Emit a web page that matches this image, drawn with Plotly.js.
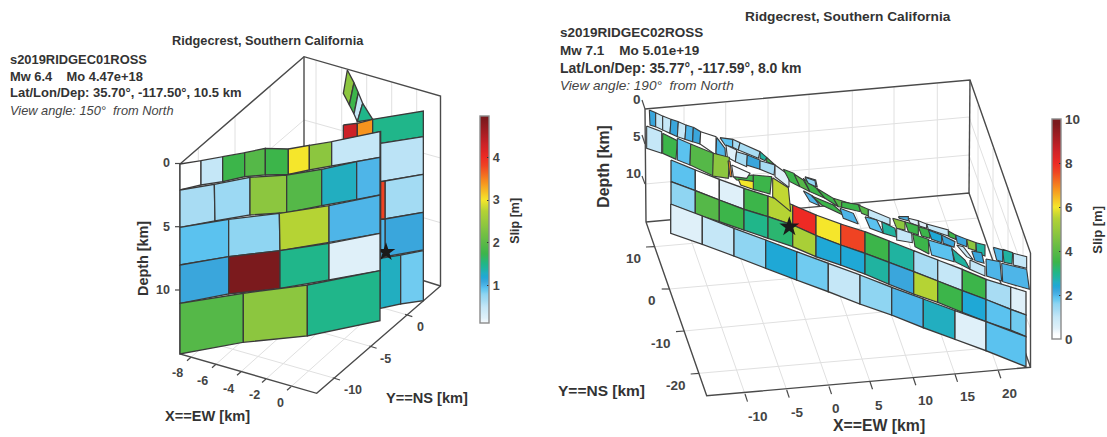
<!DOCTYPE html>
<html><head><meta charset="utf-8">
<script src="https://cdn.plot.ly/plotly-3.0.1.min.js"></script>
<style>html,body{margin:0;padding:0;background:#fff}#c{width:1107px;height:437px}</style>
</head><body><div id="c"></div>
<script>
// ---------- colour scale (fraction of the colour axis -> colour)
const scaleStops = [0,.02,.05,.1,.13,.16,.175,.19,.2,.22,.24,.26,.28,.3,.35,.39,.48,.55,.6,.68,.76,.8,.86,.9,.98,1];
const scaleColors = ['#ffffff','#fdfeff','#dff0f9','#c5e7f7','#a8dcf3','#8fd5f2','#70cbf0','#5bc2ef','#4eb5e8','#3aa6dc','#1fa8d6','#22aec0','#20b3a0','#20b68a','#3cb54a','#55b848','#8cc63f','#b5d334','#f5e62b','#f7941e','#ef4323','#ed2a24','#cc2127','#b01f24','#7b1a1d','#7b1a1d'];

// ---------- left panel: patches [slip, x,y, x,y, ...]
const leftBackPatches = [ // crop origin 130,40
 [2.4, 652,90,640,160,658,195,672,128],
 [1.75, 672,128,658,195,672,222,685,158],
 [0.5, 685,158,672,222,682,245,698,190],
 [1.5, 698,190,682,245,728,238],
 [4.3, 640,255,682,250,682,294,640,300],
 [3.4, 682,250,728,238,728,283,682,294],
 [1.5, 728,238,880,213,880,290,752,310,752,275,728,280],
 [0.55, 752,310,880,290,880,403,765,423,752,425],
 [0.68, 765,423,880,403,880,517,765,537],
 [1.1, 765,537,880,517,880,630,765,650],
 [3.8, 752,425,765,423,765,537,752,538],
 [1.0, 752,538,765,537,765,655,752,655],
 [1.3, 750,655,812,645,812,792,750,805],
 [0.875, 812,645,880,632,880,782,812,792]
];
const leftFrontPatches = [ // crop origin 130,40
 [0.05, 150,372,213,362,213,435,150,450],
 [0.5, 213,362,278,350,278,425,213,435],
 [1.75, 278,350,344,338,344,410,278,425],
 [1.95, 344,338,406,325,406,405,344,410],
 [1.75, 406,325,475,327,475,403,406,405],
 [3.0, 475,327,538,316,538,390,475,403],
 [2.4, 538,316,605,305,605,378,538,390],
 [0.5, 605,305,750,275,750,352,605,378],
 [0.65, 150,450,253,433,255,543,150,562],
 [0.72, 253,433,360,412,360,525,255,543],
 [2.4, 360,412,470,405,470,518,360,525],
 [1.95, 470,405,575,388,575,497,470,518],
 [1.3, 575,388,680,365,680,478,575,497],
 [1.0, 680,365,750,352,750,465,680,478],
 [0.95, 150,562,296,538,296,650,150,675],
 [0.8, 296,538,448,520,450,632,296,650],
 [2.75, 448,520,597,497,597,607,450,632],
 [1.0, 597,497,750,465,750,580,597,607],
 [1.1, 150,675,296,650,296,762,150,790],
 [4.9, 296,650,450,632,450,745,296,762],
 [1.5, 450,632,597,610,597,720,450,745],
 [0.25, 597,610,750,580,750,692,597,720],
 [1.95, 150,790,340,760,340,907,150,942],
 [2.4, 340,760,532,735,532,888,340,907],
 [1.5, 532,735,750,692,750,842,532,888]
];
// ---------- right panel: regular rows of the fault, bottom to top
const rowAX = [670.7,702.3,734,765.7,796.7,828.3,860,891.7,923.3,955,986,1026];
const rowATop = [204,216,228.3,240,251.7,263.3,275,287.3,299,310.7,321.7,336.7];
const rowABot = [233.3,244.3,256,268.3,280,291.7,304,315,327.7,339.3,350.7,366.7];
const rowASlip = [0.5,1.0,1.6,2.4,1.75,1.0,1.6,2.0,2.6,0.5,1.9];
const rowBX = [671,695.3,719.3,744,768,792.7,816,840.7,865,889,913.7,937.7,962.3,986,1010.7,1026];
const rowBTop = [181.7,190.7,200,209.3,216.7,225,235.5,245,253.3,262.3,271.7,281,290.7,299.5,309.3,315];
const rowBBot = [204.3,214,221.7,230,238.3,246.7,256.7,265,274,284.3,294,302.3,312.3,321.7,330,336.7];
const rowBSlip = [1.6,3.9,3.5,3.0,3.2,5.3,2.4,2.4,2.8,2.2,5.5,3.5,2.4,1.9,1.75];
const rowCTop = [160,170,179.3,188.3,196,205,215,224,231.7,241,250.7,260,269.3,279.3,287,291.7];
const rowCSlip = [1.9,0.1,0.5,3.5,5.5,8.0,6.0,7.6,3.5,2.8,1.3,1.0,3.5,1.3,0.5];
const upperPatchesWest = [ // crop origin 590,70
 [2.2, 178,120,197,128,197,170,180,165],
 [1.0, 197,128,218,138,218,180,197,170],
 [1.0, 218,138,243,148,240,190,218,180],
 [2.2, 243,148,265,155,262,200,240,190],
 [1.0, 265,155,288,165,285,208,262,200],
 [2.0, 288,165,310,172,308,215,285,208],
 [2.2, 310,172,332,185,330,222,308,215],
 [0.1, 332,185,378,200,378,255,330,222],
 [1.0, 170,168,215,185,215,250,170,235],
 [3.5, 218,190,262,212,258,268,218,250],
 [1.9, 262,205,302,222,300,285,262,270],
 [3.9, 302,222,370,250,370,318,300,285],
 [2.0, 380,202,405,235,408,280,378,250],
 [1.9, 390,203,428,208,428,232,405,225],
 [1.3, 428,208,450,218,445,240,428,232],
 [1.3, 450,218,510,245,505,265,445,240],
 [0.5, 408,225,440,240,436,275,412,262],
 [1.3, 440,245,472,255,470,290,436,275],
 [2.2, 472,255,510,270,510,298,470,285],
 [2.8, 510,245,530,262,525,272,510,265],
 [3.5, 530,262,555,285,530,275],
 [1.3, 510,272,555,285,552,315,510,298],
 [0.5, 555,285,597,315,597,352,555,320],
 [4.8, 370,250,418,262,415,325,368,318],
 [6.9, 414,272,420,274,426,320,420,320],
 [3.5, 430,320,490,315,490,335,440,330],
 [0.3, 425,285,480,310,470,325,430,320],
 [6.0, 445,328,495,335,495,360,452,345],
 [3.5, 490,315,545,320,540,372,490,358],
 [3.5, 580,298,612,310,630,350,600,335],
 [3.9, 612,312,640,330,660,365,630,350],
 [3.5, 640,325,680,355,705,385,660,365],
 [2.0, 645,320,677,330,682,352,655,335],
 [2.0, 640,362,668,378,690,408,660,395],
 [3.5, 680,355,730,385,745,410,705,385],
 [3.5, 665,378,730,405,770,440,695,405],
 [3.9, 730,385,780,400,780,415,745,410]
];
const upperPatchesEast = [ // crop origin 800,150
 [1.6, 15,82,45,92,48,110,25,100],
 [3.5, 125,155,180,165,180,185,125,172],
 [3.9, 175,165,205,178,205,198,185,190],
 [1.0, 205,178,270,205,270,225,205,200],
 [2.0, 120,175,160,190,175,222,130,205],
 [1.9, 195,200,230,210,250,250,210,235],
 [2.8, 245,215,285,235,290,262,250,250],
 [2.0, 295,200,325,200,325,212,298,205],
 [0.5, 325,205,355,212,355,228,330,218],
 [0.5, 355,212,380,222,380,235,358,228],
 [1.0, 380,222,445,240,445,258,385,238],
 [4.8, 278,205,315,215,315,240,290,235],
 [3.5, 315,215,355,228,355,255,325,245],
 [3.5, 355,230,390,240,390,265,365,258],
 [1.0, 290,235,335,250,337,278,290,270],
 [2.4, 385,240,425,255,425,278,395,268],
 [2.2, 425,255,465,275,462,292,430,280],
 [3.5, 445,243,467,255,467,268,447,260],
 [2.2, 467,255,500,268,500,290,472,280],
 [4.8, 500,268,528,278,528,302,505,295],
 [2.8, 528,278,555,285,555,318,530,310],
 [2.0, 580,292,608,300,608,335,590,330],
 [2.8, 608,298,638,308,636,342,612,337],
 [1.0, 640,310,680,320,680,355,640,345],
 [3.5, 338,252,385,268,387,312,345,290],
 [1.9, 385,270,455,290,462,335,395,315],
 [0.8, 470,285,490,290,520,330,500,320],
 [2.8, 455,295,495,330,510,358,465,335],
 [2.2, 515,303,545,308,552,340,525,332],
 [1.0, 510,330,555,350,555,378,510,358],
 [2.0, 558,327,600,335,605,393,560,378],
 [2.0, 605,340,680,358,688,418,608,395]
];
const foldedPatch = [ // crop origin 700,125
 [5.6, 218,158,265,188,272,260,218,215]
];
// ---------- axis ticks
const leftDepthTicks = ['0','5','10'];
const leftEWTicks = ['-8','-6','-4','-2','0'];
const leftNSTicks = ['-10','-5','0'];
const rightDepthTicks = ['0','5','10'];
const rightEWTicks = ['-10','-5','0','5','10','15','20'];
const rightNSTicks = ['10','0','-10','-20'];
const leftSlipTicks = [1,2,3,4];
const rightSlipTicks = [0,2,4,6,8,10];

// ---------- projected positions of axis features
const lBox = {L:[180,164],B:[304,56.7],R:[440.5,96],fL:[180,354],fF:[316.7,393.3],fR:[440.5,286],fB:[304,243]};
const lDepthLeft = [163.5,226.7,290];
const lEWBase = [[191,357.3],[216,364.3],[241,371.7],[266,379],[291,386.7]];
const lNSBase = [[332.7,377.7],[369.3,346],[405,314.3]];
const rBox = {L:[645,109],B:[970,80],R:[1030.5,253],fL:[646,222],fF:[706.7,395.7],fR:[1030.5,367.3],fB:[969,193]};
const rEWBase = [[745,394],[786.7,390],[829,386.5],[870,381.7],[913.3,377.7],[955,374.3],[998.3,370.7]];
const rNSBase = [[654.7,246.7],[669.3,289],[684.3,331],[699,373.3]];
const rNSEnd = [[978,218],[993,261],[1008,300],[1023,345]];

const hex = h => [1,3,5].map(i=>parseInt(h.substr(i,2),16));
function colorAt(t){
  t=Math.max(0,Math.min(1,t));
  for(let i=1;i<scaleStops.length;i++){
    if(t<=scaleStops[i]){
      const f=(t-scaleStops[i-1])/(scaleStops[i]-scaleStops[i-1]);
      const a=hex(scaleColors[i-1]),b=hex(scaleColors[i]);
      return 'rgb('+a.map((v,k)=>Math.round(v+(b[k]-v)*f)).join(',')+')';
    }
  }
  return scaleColors[scaleColors.length-1];
}
const traces=[];
function lines(segs,color,width){
  const x=[],y=[];
  segs.forEach(s=>{s.forEach(p=>{x.push(p[0]);y.push(p[1]);});x.push(null);y.push(null);});
  traces.push({type:'scatter',mode:'lines',x,y,line:{color,width},hoverinfo:'skip',showlegend:false});
}
function patch(xs,ys,slip,max,lw){
  traces.push({type:'scatter',mode:'lines',x:[...xs,xs[0]],y:[...ys,ys[0]],fill:'toself',
    fillcolor:colorAt(slip/max),line:{color:'#3a3a3a',width:lw||1.3},hoverinfo:'skip',showlegend:false});
}
function cropPatches(list,ox,oy,max,lw){
  list.forEach(r=>{
    const xs=[],ys=[];
    for(let i=1;i<r.length;i+=2){xs.push(ox+r[i]/3);ys.push(oy+r[i+1]/3);}
    patch(xs,ys,r[0],max,lw);
  });
}
function row(x,top,bot,slip,max){
  slip.forEach((s,i)=>patch([x[i],x[i+1],x[i+1],x[i]],[top[i],top[i+1],bot[i+1],bot[i]],s,max));
}
function star(x,y,size){
  traces.push({type:'scatter',mode:'markers',x:[x],y:[y],
    marker:{symbol:'star',size,color:'#1a1a1a',line:{width:0}},hoverinfo:'skip',showlegend:false});
}
const grey='#e0e0e0', dark='#4a4a4a';
const add=(p,d)=>[p[0]+d[0],p[1]+d[1]];

// ---------- left panel axes
lines([
  ...[[198.3,148],[235,116.4],[270,86]].map(p=>[p,[p[0],p[1]+190]]),
  ...[316,341.7,366.7,391.7,416.7].map(x=>[[x,56.7+(x-304)*.2875],[x,243+(x-304)*.31]]),
  [[180,226.7],[304,120],[440.5,158]],
  [[180,290],[304,183],[440.5,222.7]],
  ...lEWBase.map(p=>[p,add(p,[124,-111])]),
  ...lNSBase.map(p=>[p,add(p,[-137,-39])])
],grey,1);
lines([[lBox.L,lBox.B,lBox.R,lBox.fR,lBox.fF,lBox.fL,lBox.L],[lBox.B,lBox.fB],[lBox.fB,lBox.fR]],dark,1.4);
lines([
  ...lDepthLeft.map(y=>[[175,y],[180,y]]),
  ...lEWBase.map(p=>[p,add(p,[-4,3.5])]),
  ...lNSBase.map(p=>[p,add(p,[7.3,2.3])])
],dark,1.2);
cropPatches(leftBackPatches,130,40,5);
star(386,252,14);
cropPatches(leftFrontPatches,130,40,5);

// ---------- right panel axes
lines([
  ...rEWBase.map(p=>[add(p,[-61,-174]),add(p,[-61,-174-113])]),
  ...rEWBase.map(p=>[p,add(p,[-61,-174])]),
  [[645,146],[969,117],[1030.5,290]],
  [[645,184],[969,155],[1030.5,329]],
  ...rNSBase.map((p,i)=>[p,rNSEnd[i]]),
  ...rNSEnd.map(p=>[p,add(p,[0,-113])])
],grey,1);
lines([[rBox.L,rBox.B,rBox.R,rBox.fR,rBox.fF,rBox.fL,rBox.L],[rBox.B,rBox.fB],[rBox.fL,rBox.fB,rBox.fR]],dark,1.4);
lines([
  [[642,100],[645,109]],[[642,135],[645,144]],[[642,176],[645,184]],
  ...rEWBase.map(p=>[p,add(p,[2.5,7.6])]),
  [[646,247],[654.7,246.7]],[[661.7,289],[669.3,289]],[[676,331.7],[684.3,331]],[[690.7,374],[699,373.3]]
],dark,1.2);
cropPatches(upperPatchesWest,590,70,10,1.1);
cropPatches(upperPatchesEast,800,150,10,1.1);
row(rowBX,rowCTop,rowBTop,rowCSlip,10);
cropPatches(foldedPatch,700,125,10,1.1);
row(rowBX,rowBTop,rowBBot,rowBSlip,10);
row(rowAX,rowATop,rowABot,rowASlip,10);
star(789.3,226.7,15);

// ---------- colour bars
function sampled(min,max,full){
  const out=[];
  for(let i=0;i<=120;i++){out.push([i/120,colorAt((min+(max-min)*i/120)/full)]);}
  return out;
}
function bar(min,max,full,ticks,xl,top,bot,fs){
  traces.push({type:'scatter',mode:'markers',x:[-50,-50],y:[-50,-50],hoverinfo:'skip',showlegend:false,
    marker:{size:1,opacity:0,color:[min,max],cmin:min,cmax:max,colorscale:sampled(min,max,full),showscale:true,
      colorbar:{x:xl/1107,xanchor:'left',xref:'paper',y:1-top/437,yanchor:'top',yref:'paper',
        len:bot-top,lenmode:'pixels',thickness:8.7,thicknessmode:'pixels',xpad:0,ypad:0,
        outlinecolor:'#8a8a8a',outlinewidth:1.4,borderwidth:0,
        tickmode:'array',tickvals:ticks,ticktext:ticks.map(String),ticks:'inside',ticklen:2,tickcolor:'#333',
        tickfont:{family:'Liberation Sans',size:fs,color:'#444',weight:'bold'}}}});
}
bar(0.13,4.96,5,leftSlipTicks,480,116,322.7,12.5);
bar(0,10,10,rightSlipTicks,1052.3,119,339,13.5);

// ---------- text
const ann=[];
function txt(text,x,y,o){
  o=o||{};
  ann.push({text,x:o.a==='left'?x-2:x,y,xref:'x',yref:'y',showarrow:false,xanchor:o.a||'center',yanchor:'middle',textangle:o.r||0,
    font:{family:'Liberation Sans',size:o.s||12,color:o.c||'#333',weight:o.w||'bold',style:o.i?'italic':'normal'}});
}
txt('Ridgecrest, Southern California',267.5,40,{s:12.75});
txt('s2019RIDGEC01ROSS',10,59.5,{a:'left',s:12.9});
txt('Mw 6.4    Mo 4.47e+18',10,76.5,{a:'left',s:12.9});
txt('Lat/Lon/Dep: 35.70°, -117.50°, 10.5 km',10,92.5,{a:'left',s:13});
txt('View angle: 150°  from North',10,110,{a:'left',s:12.8,w:'normal',i:true,c:'#444'});
txt('Ridgecrest, Southern California',848,16,{s:13.7});
txt('s2019RIDGEC02ROSS',560,32,{a:'left',s:13.5});
txt('Mw 7.1    Mo 5.01e+19',560,50,{a:'left',s:13.5});
txt('Lat/Lon/Dep: 35.77°, -117.59°, 8.0 km',560,67.5,{a:'left',s:14});
txt('View angle: 190°  from North',560,85,{a:'left',s:13.6,w:'normal',i:true,c:'#444'});
txt('Depth [km]',143,259,{r:-90,s:14.4});
txt('X==EW [km]',207.5,416,{s:14.6});
txt('Y==NS [km]',427,398,{s:14.6});
txt('Slip [m]',515,220.7,{r:-90,s:12.5});
txt('Depth [km]',602.7,166,{r:-90,s:15.8});
txt('X==EW [km]',879,425.5,{s:15.8});
txt('Y==NS [km]',601,390,{s:15.5});
txt('Slip [m]',1096.7,230,{r:-90,s:13});
const lDepthPos=[[166,163],[166,226.7],[163,290]];
leftDepthTicks.forEach((t,i)=>txt(t,lDepthPos[i][0],lDepthPos[i][1],{c:'#444',s:12.5}));
const lEWPos=[[177.7,373.3],[202.7,380.7],[228.3,389],[254,395],[280,403]];
leftEWTicks.forEach((t,i)=>txt(t,lEWPos[i][0],lEWPos[i][1],{c:'#444',s:12.5}));
const lNSPos=[[352.7,390.3],[385.7,359],[420.3,327.3]];
leftNSTicks.forEach((t,i)=>txt(t,lNSPos[i][0],lNSPos[i][1],{c:'#444',s:12.5}));
const rDepthPos=[[636.7,99],[636.7,136],[633,173.3]];
rightDepthTicks.forEach((t,i)=>txt(t,rDepthPos[i][0],rDepthPos[i][1],{c:'#444',s:13.5}));
const rEWPos=[[758.3,416],[796.7,412.7],[836,408.3],[879.3,405],[925,400.7],[967.7,396.7],[1009.3,393.3]];
rightEWTicks.forEach((t,i)=>txt(t,rEWPos[i][0],rEWPos[i][1],{c:'#444',s:13.5}));
const rNSPos=[[633.3,258.3],[651.7,300],[661,343.3],[675.7,385]];
rightNSTicks.forEach((t,i)=>txt(t,rNSPos[i][0],rNSPos[i][1],{c:'#444',s:13.5}));

Plotly.newPlot('c',traces,{
  width:1107,height:437,margin:{l:0,r:0,t:0,b:0,autoexpand:false},
  paper_bgcolor:'#fff',plot_bgcolor:'#fff',showlegend:false,
  xaxis:{range:[0,1107],visible:false,fixedrange:true},
  yaxis:{range:[437,0],visible:false,fixedrange:true},
  annotations:ann
},{staticPlot:true,displayModeBar:false});
</script></body></html>
